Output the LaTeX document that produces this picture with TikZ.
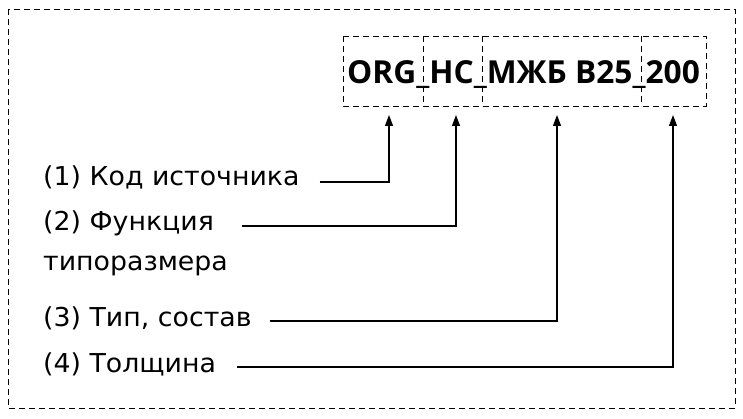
\documentclass[tikz,border=0pt]{standalone}
\usepackage{fontspec}
\setmainfont{DejaVu Sans}[FakeStretch=1.03]
\newfontfamily\codefont{Open Sans}
\usetikzlibrary{arrows.meta}
\tikzset{
	frame/.style={line width=.8pt,dash pattern=on 6pt off 4pt},
	lbl/.style={anchor=base west,inner sep=0pt,font=\fontsize{26}{30}\selectfont},
	code/.style={anchor=base west,inner sep=0pt,font=\codefont\bfseries\fontsize{31.7}{36}\selectfont},
	conn/.style={line width=1.2pt,-{Triangle[length=11pt,width=8pt]}}
}
\begin{document}
\begin{tikzpicture}[x=1pt,y=-1pt]
		\useasboundingbox (0,0) rectangle (743,419);
		\draw[frame] (8,9) rectangle (735,408);
		% code and its parts
		\draw[frame] (343,36) rectangle (706,106);
		\foreach \x in {423,482,641}
			\draw[frame] (\x,36) -- (\x,106);
		\node[code] (code) at (347,84) {ORG\_HC\_МЖБ B25\_200};
		\coordinate (t1) at (389,115);
		\coordinate (t2) at (456,115);
		\coordinate (t3) at (557,115);
		\coordinate (t4) at (673,115);
		% labels
		\node[lbl] (l1) at (43,186) {(1) Код источника};
		\node[lbl] (l2) at (43,231) {(2) Функция};
		\node[lbl] (l2b) at (43,270) {типоразмера};
		\node[lbl] (l3) at (43,326) {(3) Тип, состав};
		\node[lbl] (l4) at (43,372) {(4) Толщина};
		\draw[conn] ([xshift=20pt,yshift=4pt]l1.base east) -| (t1);
		\draw[conn] ([xshift=28pt,yshift=5pt]l2.base east) -| (t2);
		\draw[conn] ([xshift=18pt,yshift=5pt]l3.base east) -| (t3);
		\draw[conn] ([xshift=21pt,yshift=5pt]l4.base east) -| (t4);
	\end{tikzpicture}
\end{document}
